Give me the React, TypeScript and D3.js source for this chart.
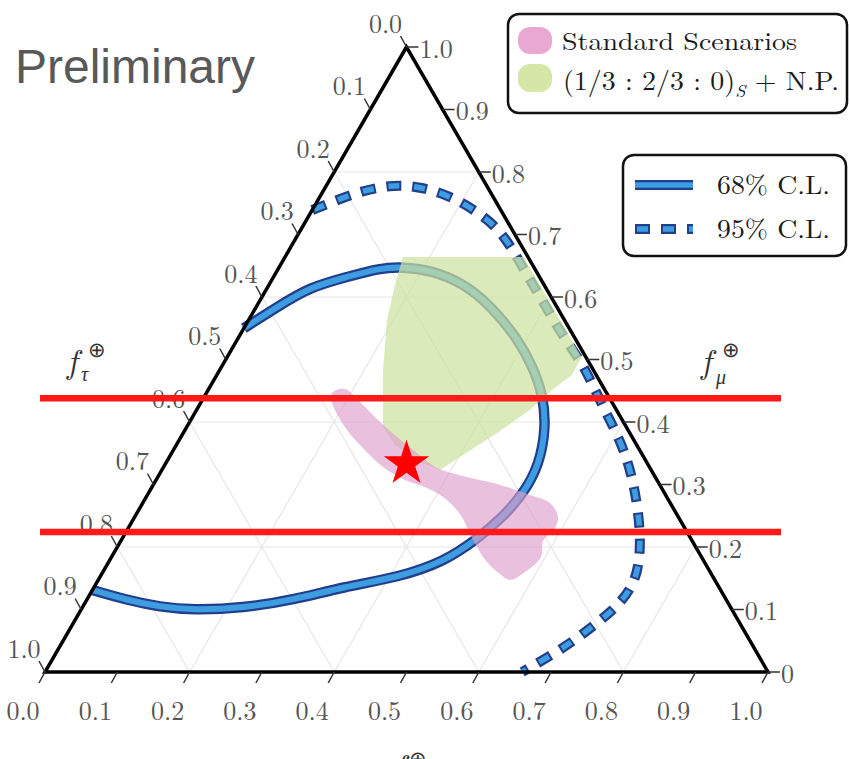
import React from "react";
import * as d3 from "d3";

const W = 850;
const H = 759;

// ---------- data ----------
const tickValues = [0, 0.1, 0.2, 0.3, 0.4, 0.5, 0.6, 0.7, 0.8, 0.9, 1.0];
const bottomTickLabels = ["0.0", "0.1", "0.2", "0.3", "0.4", "0.5", "0.6", "0.7", "0.8", "0.9", "1.0"];
const leftTickLabels = ["0.0", "0.1", "0.2", "0.3", "0.4", "0.5", "0.6", "0.7", "0.8", "0.9", "1.0"];
const rightTickLabels = ["0", "0.1", "0.2", "0.3", "0.4", "0.5", "0.6", "0.7", "0.8", "0.9", "1.0"];
const gridValues = [0.2, 0.4, 0.6, 0.8];

// points as [f_e, f_mu]  (f_tau = 1 - f_e - f_mu)
const cl68: [number, number][] = [
  [0.0, 0.55], [0.029, 0.584], [0.0585, 0.616], [0.1017, 0.632], [0.14, 0.6464],
  [0.171, 0.648], [0.211, 0.6432], [0.267, 0.6224], [0.322, 0.5872], [0.386, 0.5344],
  [0.431, 0.488], [0.467, 0.4432], [0.497, 0.392], [0.518, 0.3312], [0.519, 0.2864],
  [0.5095, 0.248], [0.4905, 0.2112], [0.4645, 0.1776], [0.415, 0.152], [0.344, 0.136],
  [0.2854, 0.1152], [0.2227, 0.1024], [0.155, 0.0992], [0.107, 0.104], [0.0558, 0.1152],
  [0.0, 0.1312],
];

const cl95: [number, number][] = [
  [0.0, 0.7392], [0.019, 0.7504], [0.0456, 0.7664], [0.0753, 0.776], [0.1014, 0.7792],
  [0.1307, 0.776], [0.1758, 0.7632], [0.2251, 0.7392], [0.2714, 0.7104], [0.3097, 0.6752],
  [0.349, 0.6352], [0.398, 0.5872], [0.4455, 0.5392], [0.4904, 0.4992], [0.5254, 0.4624],
  [0.5598, 0.424], [0.5948, 0.3872], [0.627, 0.3504], [0.6559, 0.312], [0.6836, 0.2704],
  [0.7094, 0.2272], [0.731, 0.184], [0.7448, 0.1424], [0.7397, 0.1056], [0.7243, 0.0784],
  [0.7075, 0.0512], [0.6857, 0.0256], [0.66, 0.0],
];

const npRegion: [number, number][] = [
  [0.163, 0.664], [0.33, 0.664], [0.49, 0.504], [0.4913, 0.4752], [0.4756, 0.4512],
  [0.4612, 0.4192], [0.434, 0.3824], [0.4045, 0.3472], [0.3847, 0.3232], [0.3422, 0.3392],
  [0.3025, 0.3632], [0.2715, 0.392], [0.2259, 0.4832], [0.1914, 0.5632], [0.1745, 0.6192],
];

const standardRegion: [number, number][] = [
  [0.1743, 0.448], [0.1885, 0.4528], [0.2262, 0.4272], [0.259, 0.4032], [0.2989, 0.376],
  [0.3393, 0.3504], [0.379, 0.3264], [0.4213, 0.3136], [0.4748, 0.3008], [0.5292, 0.2832],
  [0.5633, 0.2704], [0.5855, 0.248], [0.5902, 0.2304], [0.584, 0.2096], [0.594, 0.184],
  [0.5839, 0.16], [0.5696, 0.1472], [0.5509, 0.1568], [0.5233, 0.176], [0.4864, 0.2112],
  [0.4476, 0.2528], [0.4105, 0.28], [0.3776, 0.296], [0.3443, 0.3072], [0.3035, 0.328],
  [0.2606, 0.3584], [0.2241, 0.3872], [0.1915, 0.4192], [0.1764, 0.4384],
];

const bestFit: [number, number] = [1 / 3, 1 / 3];
const redLineMu = [0.438, 0.224];

// ---------- layout ----------
const xs = d3.scaleLinear().domain([0, 1]).range([45, 768]);
const ys = d3.scaleLinear().domain([0, 1]).range([672, 47]);
const px = (e: number, m: number): [number, number] => [xs(e + m / 2), ys(m)];

const SERIF = "'Latin Modern Roman', 'Liberation Serif', 'Times New Roman', serif";
const TICK_COLOR = "#555555";
const DARK_BLUE = "#223f8c";
const LIGHT_BLUE = "#3d9de0";

const openLine = d3
  .line<[number, number]>()
  .x((d) => px(d[0], d[1])[0])
  .y((d) => px(d[0], d[1])[1])
  .curve(d3.curveBasis);

const closedSmooth = d3
  .line<[number, number]>()
  .x((d) => px(d[0], d[1])[0])
  .y((d) => px(d[0], d[1])[1])
  .curve(d3.curveCatmullRomClosed.alpha(0.5));

const closedLinear = d3
  .line<[number, number]>()
  .x((d) => px(d[0], d[1])[0])
  .y((d) => px(d[0], d[1])[1])
  .curve(d3.curveLinearClosed);

export default function App() {
  const A = px(0, 1); // apex
  const L = px(0, 0); // bottom-left (tau = 1)
  const R = px(1, 0); // bottom-right (e = 1)

  const grid: { x1: number; y1: number; x2: number; y2: number }[] = [];
  gridValues.forEach((v) => {
    let a = px(0, v), b = px(1 - v, v);
    grid.push({ x1: a[0], y1: a[1], x2: b[0], y2: b[1] });
    a = px(v, 0); b = px(v, 1 - v);
    grid.push({ x1: a[0], y1: a[1], x2: b[0], y2: b[1] });
    a = px(1 - v, 0); b = px(0, 1 - v);
    grid.push({ x1: a[0], y1: a[1], x2: b[0], y2: b[1] });
  });

  const star = d3.symbol().type(d3.symbolStar).size(640)();
  const bf = px(bestFit[0], bestFit[1]);

  const c95 = openLine(cl95) || "";
  const c68 = openLine(cl68) || "";

  return (
    <svg width={W} height={H} viewBox={`0 0 ${W} ${H}`} style={{ position: "absolute", left: 0, top: 0, background: "#fff" }}>
      <rect x={0} y={0} width={W} height={H} fill="#fff" />
      {/* grid */}
      <g stroke="#e6e6e6" strokeWidth={1.2}>
        {grid.map((g, i) => (
          <line key={i} x1={g.x1} y1={g.y1} x2={g.x2} y2={g.y2} />
        ))}
      </g>

      {/* 95% CL dashed */}
      <path d={c95} fill="none" stroke={DARK_BLUE} strokeWidth={10} strokeDasharray="15 11" />
      <path d={c95} fill="none" stroke={LIGHT_BLUE} strokeWidth={5.5} strokeDasharray="11 15" strokeDashoffset={-2} />

      {/* 68% CL solid */}
      <path d={c68} fill="none" stroke={DARK_BLUE} strokeWidth={10.5} strokeLinecap="butt" />
      <path d={c68} fill="none" stroke={LIGHT_BLUE} strokeWidth={6} />

      {/* regions */}
      <path d={closedLinear(npRegion) || ""} fill="#cde2a0" fillOpacity={0.72} />
      <path d={closedSmooth(standardRegion) || ""} fill="#dea0cb" fillOpacity={0.66} />

      {/* triangle */}
      <path d={`M${A[0]},${A[1]}L${L[0]},${L[1]}L${R[0]},${R[1]}Z`} fill="none" stroke="#000" strokeWidth={3.5} strokeLinejoin="miter" />

      {/* bottom axis ticks (f_e) */}
      <g>
        {tickValues.map((v, i) => {
          const p = px(v, 0);
          return (
            <g key={"b" + i}>
              <line x1={p[0]} y1={p[1]} x2={p[0] - 6} y2={p[1] + 11} stroke="#333" strokeWidth={1.5} />
              <text x={p[0] - 22} y={p[1] + 37} fontFamily={SERIF} fontSize={26} fill={TICK_COLOR} textAnchor="middle" dominantBaseline="central">
                {bottomTickLabels[i]}
              </text>
            </g>
          );
        })}
      </g>

      {/* left axis ticks (f_tau) */}
      <g>
        {tickValues.map((v, i) => {
          const p = px(0, 1 - v);
          return (
            <g key={"l" + i}>
              <line x1={p[0]} y1={p[1]} x2={p[0] - 6} y2={p[1] - 11} stroke="#333" strokeWidth={1.5} />
              <text x={p[0] - 21} y={p[1] - 25} fontFamily={SERIF} fontSize={26} fill={TICK_COLOR} textAnchor="middle" dominantBaseline="central">
                {leftTickLabels[i]}
              </text>
            </g>
          );
        })}
      </g>

      {/* right axis ticks (f_mu) */}
      <g>
        {tickValues.map((v, i) => {
          const p = px(1 - v, v);
          return (
            <g key={"r" + i}>
              <line x1={p[0]} y1={p[1]} x2={p[0] + 12} y2={p[1]} stroke="#333" strokeWidth={1.5} />
              <text x={p[0] + 13} y={p[1]} fontFamily={SERIF} fontSize={26} fill={TICK_COLOR} textAnchor="start" dominantBaseline="central">
                {rightTickLabels[i]}
              </text>
            </g>
          );
        })}
      </g>

      {/* axis titles */}
      <g fontFamily={SERIF} fill="#333">
        <text x={67} y={373} fontSize={34} fontStyle="italic">f</text>
        <text x={88} y={357} fontSize={21}>⊕</text>
        <text x={81} y={381} fontSize={20} fontStyle="italic">τ</text>

        <text x={701} y={373} fontSize={34} fontStyle="italic">f</text>
        <text x={722} y={357} fontSize={21}>⊕</text>
        <text x={716} y={384} fontSize={20} fontStyle="italic">μ</text>

        <text x={394} y={778} fontSize={34} fontStyle="italic">f</text>
        <text x={409} y={766} fontSize={21}>⊕</text>
      </g>

      {/* red lines */}
      {redLineMu.map((m, i) => (
        <line key={"red" + i} x1={40} x2={781} y1={ys(m)} y2={ys(m)} stroke="#ff1a1a" strokeWidth={6.5} />
      ))}

      {/* best fit star */}
      <path d={star || ""} transform={`translate(${bf[0]},${bf[1]})`} fill="#ff0000" />

      {/* legend 1 */}
      <g>
        <rect x={508} y={14} width={339} height={99} rx={11} fill="#fff" stroke="#111" strokeWidth={2.5} />
        <rect x={518} y={27} width={34} height={27} rx={12} fill="#e8a8d2" />
        <rect x={518} y={64} width={34} height={28} rx={12} fill="#d6e6a6" />
        <text x={562} y={50} fontFamily={SERIF} fontSize={25} fill="#1a1a1a" textLength={235} lengthAdjust="spacingAndGlyphs">
          Standard Scenarios
        </text>
        <text x={563} y={90} fontFamily={SERIF} fontSize={26} fill="#1a1a1a" textLength={276} lengthAdjust="spacingAndGlyphs">
          <tspan>(1/3 : 2/3 : 0)</tspan>
          <tspan fontSize={17} fontStyle="italic" dy={7}>S</tspan>
          <tspan dy={-7}> + N.P.</tspan>
        </text>
      </g>

      {/* legend 2 */}
      <g>
        <rect x={623} y={155} width={223} height={101} rx={11} fill="#fff" stroke="#111" strokeWidth={2.5} />
        <line x1={635} x2={693} y1={185} y2={185} stroke={DARK_BLUE} strokeWidth={10} />
        <line x1={635} x2={693} y1={185} y2={185} stroke={LIGHT_BLUE} strokeWidth={5.5} />
        <line x1={635} x2={693} y1={229} y2={229} stroke={DARK_BLUE} strokeWidth={10} strokeDasharray="15 11" />
        <line x1={635} x2={693} y1={229} y2={229} stroke={LIGHT_BLUE} strokeWidth={5.5} strokeDasharray="11 15" strokeDashoffset={-2} />
        <text x={717} y={194} fontFamily={SERIF} fontSize={26} fill="#1a1a1a" textLength={113} lengthAdjust="spacingAndGlyphs">
          68% C.L.
        </text>
        <text x={717} y={238} fontFamily={SERIF} fontSize={26} fill="#1a1a1a" textLength={113} lengthAdjust="spacingAndGlyphs">
          95% C.L.
        </text>
      </g>

      {/* Preliminary */}
      <text x={15} y={83} fontFamily="'Liberation Sans', Arial, sans-serif" fontSize={48} fill="#595959">
        Preliminary
      </text>
    </svg>
  );
}
